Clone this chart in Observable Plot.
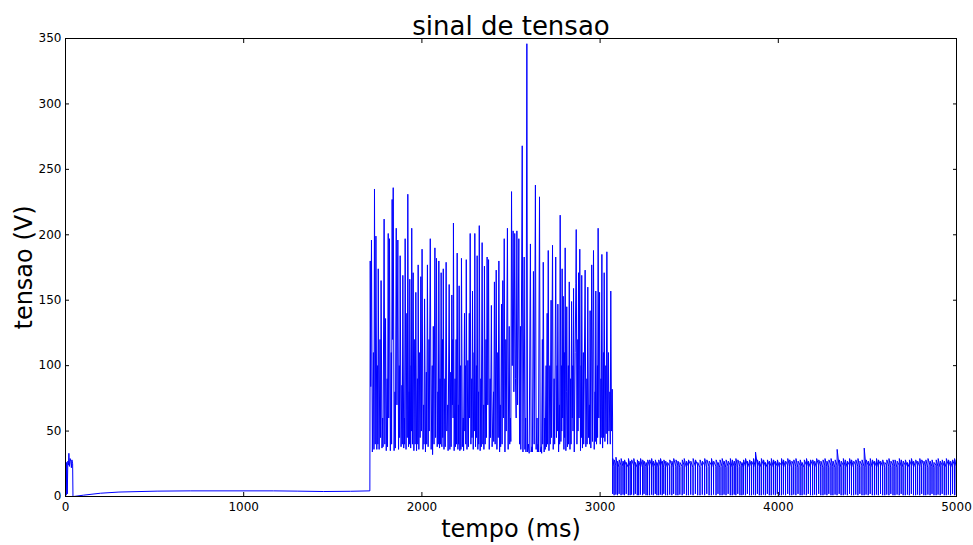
<!DOCTYPE html>
<html>
<head>
<meta charset="utf-8">
<script src="https://cdn.jsdelivr.net/npm/d3@7"></script>
<script src="https://cdn.jsdelivr.net/npm/@observablehq/plot@0.6"></script>
<style>
  html, body { margin: 0; padding: 0; background: #fff; }
</style>
</head>
<body>
<div id="chart"></div>
<script>
const titleText = "sinal de tensao";
const xLabel = "tempo (ms)";
const yLabel = "tensao (V)";
const xTicks = [0, 1000, 2000, 3000, 4000, 5000];
const yTicks = [0, 50, 100, 150, 200, 250, 300, 350];

// initial transient + slow rise [t (ms), v (V)]
const startSignal = [
  [0,0],[2,26],[4,1],[7,26],[10,2],[13,27],[17,24],[19,33],[22,23],[26,29],
  [30,27],[33,22],[36,28],[40,25],[42,0],[45,0],[100,1],[196,2.5],[300,3.4],
  [514,4.1],[700,4.3],[1168,4.3],[1300,4.1],[1449,3.8],[1600,4.0],[1708,4.3]
];

// burst region [t (ms), v (V)]
const burstSignal = [
  [1710,180],[1713,84],[1717,196],[1722,34],[1728,110],[1731,36],[1734,235],[1738,40],[1742,199],[1747,36],
  [1751,100],[1753,40],[1755,174],[1760,36],[1765,120],[1768,45],[1771,165],[1776,37],[1780,60],[1782,38],
  [1788,212],[1792,40],[1796,136],[1800,35],[1805,90],[1807,38],[1811,201],[1814,60],[1818,197],[1823,35],
  [1828,110],[1830,40],[1833,227],[1836,120],[1839,236],[1844,35],[1849,80],[1851,37],[1856,205],[1860,70],
  [1865,196],[1869,36],[1873,100],[1875,45],[1878,184],[1883,38],[1888,85],[1890,40],[1893,169],[1898,37],
  [1902,60],[1903,40],[1906,197],[1911,36],[1916,140],[1918,45],[1921,231],[1925,38],[1929,80],[1930,40],
  [1932,166],[1937,37],[1940,100],[1941,50],[1943,205],[1947,40],[1951,171],[1955,35],[1960,120],[1962,40],
  [1966,156],[1970,35],[1975,90],[1977,40],[1979,177],[1983,36],[1988,110],[1990,45],[1994,168],[1997,50],
  [2001,189],[2006,36],[2010,70],[2012,40],[2015,151],[2020,34],[2025,95],[2027,40],[2031,177],[2035,38],
  [2040,120],[2041,50],[2047,197],[2052,36],[2058,100],[2060,32],[2064,130],[2068,40],[2073,190],[2077,45],
  [2082,182],[2086,38],[2090,80],[2092,40],[2095,180],[2099,37],[2102,90],[2104,40],[2108,171],[2112,38],
  [2116,120],[2117,45],[2120,174],[2124,36],[2129,90],[2131,38],[2136,179],[2140,50],[2145,70],[2147,35],
  [2153,162],[2157,36],[2162,95],[2164,38],[2168,154],[2171,70],[2174,120],[2175,60],[2177,209],[2181,35],
  [2186,90],[2188,38],[2192,120],[2194,40],[2198,186],[2202,36],[2205,70],[2206,40],[2209,161],[2213,35],
  [2217,100],[2219,36],[2222,182],[2227,38],[2232,60],[2234,35],[2239,140],[2241,50],[2244,100],[2246,40],
  [2249,181],[2253,36],[2258,104],[2261,38],[2266,140],[2268,60],[2271,201],[2275,40],[2280,90],[2281,45],
  [2284,157],[2288,36],[2293,110],[2294,50],[2297,201],[2301,38],[2306,100],[2307,45],[2310,184],[2314,36],
  [2318,80],[2319,40],[2322,207],[2327,35],[2331,90],[2333,38],[2338,194],[2342,40],[2347,70],[2348,36],
  [2351,176],[2355,40],[2360,120],[2362,45],[2366,183],[2370,70],[2374,181],[2378,36],[2383,90],[2385,45],
  [2390,146],[2394,38],[2402,80],[2403,42],[2407,164],[2411,40],[2417,173],[2421,36],[2426,110],[2428,45],
  [2432,180],[2436,34],[2440,70],[2442,38],[2447,147],[2450,40],[2454,165],[2458,60],[2462,197],[2466,34],
  [2471,120],[2473,50],[2480,205],[2484,36],[2490,130],[2493,40],[2497,60],[2499,42],[2503,233],[2507,100],
  [2512,203],[2516,80],[2521,201],[2525,90],[2529,60],[2533,203],[2537,70],[2544,197],[2548,40],[2553,130],
  [2555,36],[2563,268],[2567,34],[2574,183],[2578,36],[2582,60],[2584,34],[2589,346],[2593,34],[2598,40],
  [2602,33],[2609,193],[2613,34],[2618,38],[2620,34],[2626,172],[2630,40],[2637,238],[2641,36],[2646,60],
  [2648,34],[2652,40],[2654,34],[2660,229],[2664,34],[2670,38],[2672,33],[2676,120],[2678,40],[2681,179],
  [2686,34],[2690,60],[2692,36],[2697,100],[2699,38],[2703,140],[2705,40],[2709,188],[2713,35],[2718,100],
  [2720,40],[2725,150],[2727,45],[2733,192],[2737,36],[2742,90],[2745,40],[2751,183],[2755,45],[2759,100],
  [2760,50],[2763,147],[2767,34],[2772,70],[2773,40],[2776,215],[2780,42],[2784,100],[2785,50],[2787,174],
  [2790,60],[2793,153],[2797,36],[2800,110],[2801,45],[2804,190],[2808,35],[2811,80],[2813,145],[2817,38],
  [2822,100],[2823,40],[2827,164],[2831,36],[2835,90],[2837,40],[2840,149],[2844,60],[2847,100],[2848,50],
  [2851,159],[2855,34],[2860,110],[2864,163],[2866,204],[2870,40],[2875,120],[2876,50],[2879,171],[2882,60],
  [2886,189],[2890,35],[2894,100],[2895,45],[2897,169],[2901,37],[2906,110],[2908,40],[2916,173],[2920,38],
  [2926,90],[2927,40],[2931,160],[2935,45],[2940,70],[2941,40],[2944,142],[2948,37],[2953,177],[2957,42],
  [2963,188],[2967,36],[2972,80],[2973,42],[2976,157],[2980,40],[2985,100],[2986,45],[2989,205],[2993,60],
  [2997,156],[3001,40],[3005,90],[3006,45],[3010,185],[3014,37],[3019,110],[3020,45],[3023,171],[3027,42],
  [3032,100],[3034,48],[3038,187],[3042,40],[3047,110],[3050,50],[3055,80],[3057,40],[3060,157],[3064,50],
  [3068,82]
];

// tonic region: each drop [t (ms), value before drop, drop minimum, recovery peak]
const tonicDrops = [
  [3070,60,2,29],
  [3078,23,1,28],[3088,24,1.5,30],[3097,23,1,27],[3106,22,2,28],[3117,24,1,29],[3128,23,1.5,27],[3136,22,1,28],[3146,24,2,26],[3158,22,1,29],[3168,23,1,27],
  [3176,22,1.5,28],[3188,24,1,29],[3197,23,2,26],[3208,22,1,28],[3216,24,1,27],[3226,23,1.5,29],[3238,22,1,28],[3246,24,2,27],[3257,23,1,26],[3266,22,1,28],
  [3277,23,1,28],[3288,24,1.5,29],[3298,22,1,27],[3309,23,2,28],[3318,24,1,26],[3328,22,1,28],[3338,23,1.5,29],[3348,24,1,27],[3357,22,2,28],[3367,23,1,27],
  [3378,22,1,26],[3390,23,1.5,28],[3402,24,1,27],[3412,22,2,29],[3425,23,1,28],[3436,24,1,27],[3447,22,1.5,26],[3460,23,1,28],[3471,24,2,29],[3484,22,1,27],
  [3495,23,1,28],[3508,24,1.5,27],[3521,22,1,29],[3534,23,2,28],[3547,24,1,26],[3560,22,1,28],[3573,23,1.5,27],[3586,24,1,29],[3598,22,2,28],[3611,23,1,27],
  [3624,24,1,29],[3636,22,1.5,27],[3650,23,1,28],[3661,24,2,26],[3672,22,1,28],[3684,23,1,29],[3695,24,1.5,27],[3706,22,1,28],[3718,23,2,27],[3730,24,1,29],
  [3741,22,1,28],[3752,23,1.5,27],[3761,24,1,29],[3772,22,2,28],[3784,23,1,27],[3795,24,1,26],[3804,22,1.5,28],[3815,23,1,29],[3826,24,2,27],[3838,22,1,28],
  [3849,23,1,27],[3860,24,1.5,29],[3871,22,1,34],[3882,24,2,28],[3893,23,1,27],[3904,22,1,29],[3916,24,1.5,28],[3927,23,1,26],[3938,22,2,28],[3949,24,1,27],
  [3960,23,1,29],[3972,22,1.5,28],[3983,24,1,27],[3994,23,2,28],[4006,22,1,26],[4017,24,1,29],[4028,23,1.5,28],[4040,22,1,27],[4052,24,2,29],[4063,23,1,28],
  [4075,22,1,27],[4086,24,1.5,28],[4098,23,1,29],[4110,22,2,27],[4122,24,1,28],[4133,23,1,26],[4145,22,1.5,28],[4157,24,1,29],[4168,23,2,27],[4180,22,1,28],
  [4192,24,1,28],[4203,23,1.5,27],[4214,22,1,29],[4226,24,2,28],[4238,23,1,27],[4250,22,1,28],[4261,24,1.5,29],[4272,23,1,27],[4283,22,2,28],[4295,24,1,29],
  [4306,23,1,27],[4318,22,1.5,28],[4329,24,1,36],[4341,23,2,28],[4352,22,1,27],[4364,24,1,29],[4375,23,1.5,28],[4387,22,1,27],[4399,24,2,29],[4410,23,1,28],
  [4422,22,1,27],[4434,24,1.5,28],[4446,23,1,29],[4457,22,2,27],[4469,24,1,28],[4481,23,1,37],[4492,22,1.5,28],[4504,24,1,27],[4515,23,2,29],[4527,22,1,28],
  [4539,24,1,27],[4550,23,1.5,29],[4561,22,1,28],[4573,24,2,27],[4585,23,1,28],[4597,22,1,26],[4608,24,1.5,28],[4620,23,1,29],[4631,22,2,27],[4643,24,1,28],
  [4654,23,1,28],[4666,22,1.5,27],[4678,24,1,29],[4689,23,2,28],[4700,22,1,27],[4712,24,1,28],[4724,23,1.5,26],[4735,22,1,28],[4746,24,2,29],[4758,23,1,27],
  [4770,22,1,28],[4781,24,1.5,27],[4793,23,1,29],[4804,22,2,28],[4816,24,1,27],[4827,23,1,28],[4839,22,1.5,29],[4851,24,1,27],[4862,23,2,28],[4873,22,1,26],
  [4885,24,1,28],[4896,23,1.5,29],[4908,22,1,27],[4919,24,2,28],[4931,23,1,27],[4942,22,1,29],[4954,24,1.5,28],[4966,23,1,27],[4977,22,2,28],[4988,24,1,29],
  [4998,23,1,28]
];
const endSignal = [[5000, 2]];

// Build the table for the line mark from the arrays above
const signal = [];
for (const [t, v] of startSignal) signal.push({t, v});
for (const [t, v] of burstSignal) signal.push({t, v});
for (const [t, pre, lo, top] of tonicDrops) {
  signal.push({t, v: pre});
  signal.push({t: t + 0.6, v: lo});
  signal.push({t: t + 1.2, v: top});
}
for (const [t, v] of endSignal) signal.push({t, v});

const fmt = d3.format("d");
const font = "DejaVu Sans, Bitstream Vera Sans, sans-serif";

const chart = Plot.plot({
  width: 973,
  height: 545,
  marginLeft: 65,
  marginRight: 17,
  marginTop: 38,
  marginBottom: 49,
  style: {fontFamily: font, background: "white", color: "black", overflow: "visible"},
  x: {domain: [0, 5000]},
  y: {domain: [0, 350]},
  marks: [
    Plot.line(signal, {x: "t", y: "v", stroke: "#0000ff", strokeWidth: 1}),
    Plot.frame({stroke: "black", strokeWidth: 1}),
    Plot.axisX(xTicks, {anchor: "bottom", tickSize: -4, tickPadding: 10, tickFormat: fmt, fontSize: 12, label: null, stroke: "black"}),
    Plot.axisX(xTicks, {anchor: "top", tickSize: -4, tickFormat: () => "", label: null, stroke: "black"}),
    Plot.axisY(yTicks, {anchor: "left", tickSize: -4, tickPadding: 8, tickFormat: fmt, fontSize: 12, label: null, stroke: "black"}),
    Plot.axisY(yTicks, {anchor: "right", tickSize: -4, tickFormat: () => "", label: null, stroke: "black"}),
    Plot.text([titleText], {text: d => d, frameAnchor: "top", textAnchor: "middle", lineAnchor: "bottom", dy: -4, fontSize: 26, fill: "black"}),
    Plot.text([xLabel], {text: d => d, frameAnchor: "bottom", textAnchor: "middle", lineAnchor: "bottom", dy: 40, fontSize: 24, fill: "black"}),
    Plot.text([yLabel], {text: d => d, frameAnchor: "left", textAnchor: "middle", lineAnchor: "bottom", rotate: -90, dx: -34, fontSize: 24, fill: "black"})
  ]
});
document.getElementById("chart").appendChild(chart);
</script>
</body>
</html>
